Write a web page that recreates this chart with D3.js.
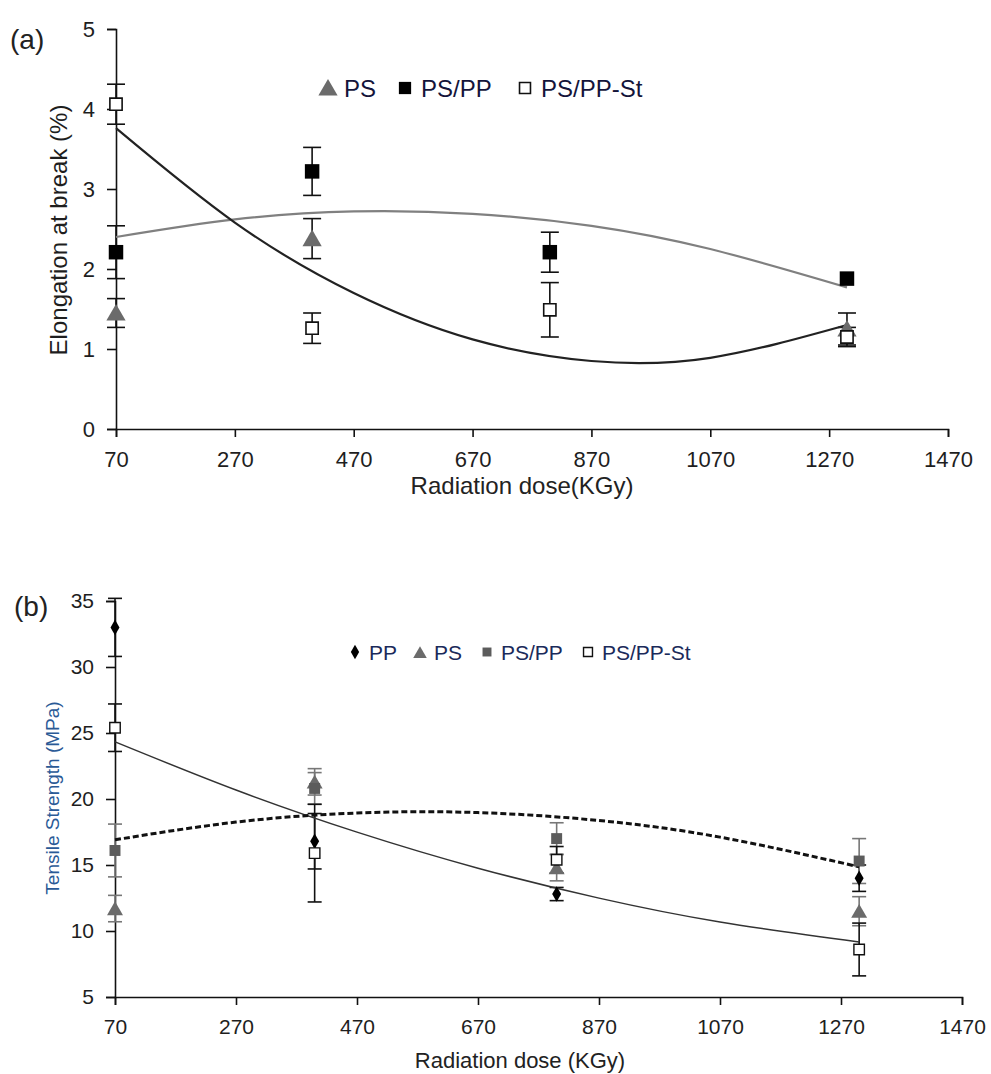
<!DOCTYPE html>
<html>
<head>
<meta charset="utf-8">
<script src="https://cdn.jsdelivr.net/npm/d3@7"></script>
<style>
  html, body { margin: 0; padding: 0; background: #fff; }
  svg { display: block; }
  text { font-family: "Liberation Sans", Arial, sans-serif; }
</style>
</head>
<body>
<script>
// ---------------- DATA ----------------
const doses = [70, 400, 800, 1300];
const xTicks = [70, 270, 470, 670, 870, 1070, 1270, 1470];

// Panel (a) Elongation at break (%)
const elongYTicks = [0, 1, 2, 3, 4, 5];
const elongPS        = [1.45, 2.38, null, 1.25];
const elongPSErr     = [0.18, 0.25, null, 0.2];
const elongPSPP      = [2.21, 3.22, 2.21, 1.88];
const elongPSPPErr   = [0.33, 0.30, 0.25, 0];
const elongPSPPSt    = [4.06, 1.26, 1.49, 1.15];
const elongPSPPStErr = [0.25, 0.19, 0.34, 0.12];
// trendline readings (2nd-order polynomial trendlines of the chart)
const trendDoses      = [70, 270, 470, 670, 870, 1070, 1300];
const elongTrendPSPP   = [2.40, 2.62, 2.72, 2.69, 2.54, 2.25, 1.77];
const elongTrendPSPPSt = [3.76, 2.58, 1.70, 1.12, 0.85, 0.89, 1.30];

// Panel (b) Tensile strength (MPa)
const tensYTicks = [5, 10, 15, 20, 25, 30, 35];
const tensPP        = [33.0, 16.8, 12.8, 14.0];
const tensPPErr     = [2.2, 2.1, 0.5, 1.0];
const tensPS        = [11.7, 21.3, 14.8, 11.5];
const tensPSErr     = [1.0, 1.0, 1.0, 1.1];
const tensPSPP      = [16.1, 20.8, 17.0, 15.3];
const tensPSPPErr   = [2.0, 1.2, 1.2, 1.7];
const tensPSPPSt    = [25.4, 15.9, 15.4, 8.6];
const tensPSPPStErr = [1.8, 3.7, 1.0, 2.0];
const tensTrendPSPP   = [16.91, 18.25, 18.94, 18.97, 18.37, 17.11, 14.86];
const tensTrendPSPPSt = [24.33, 20.68, 17.49, 14.76, 12.49, 10.68, 9.17];

// ---------------- DRAW ----------------
const W = 991, H = 1074;
const svg = d3.select("body").append("svg").attr("width", W).attr("height", H);

const symTri = d3.symbol().type(d3.symbolTriangle);
const symSq = d3.symbol().type(d3.symbolSquare);
const symDia = d3.symbol().type(d3.symbolDiamond);

function panel(cfg) {
  const g = svg.append("g");
  const x = d3.scaleLinear().domain([70, 1470]).range([cfg.x0, cfg.x1]);
  const y = d3.scaleLinear().domain(cfg.yDomain).range([cfg.yBottom, cfg.yTop]);

  // axes
  const ax = g.append("g").attr("transform", `translate(0,${cfg.yBottom})`)
    .call(d3.axisBottom(x).tickValues(xTicks).tickSize(8).tickPadding(cfg.xPad).tickFormat(d3.format("d")));
  const ay = g.append("g").attr("transform", `translate(${cfg.x0},0)`)
    .call(d3.axisLeft(y).tickValues(cfg.yTicks).tickSize(9).tickPadding(cfg.yPad).tickFormat(d3.format("d")));
  [ax, ay].forEach(a => {
    a.select(".domain").attr("stroke", "#111").attr("stroke-width", 1.6);
    a.selectAll(".tick line").attr("stroke", "#111").attr("stroke-width", 1.6);
    a.selectAll("text").attr("fill", "#1e1e1e").style("font-size", cfg.tickFont + "px")
      .style("font-family", cfg.tickFamily);
  });
  ax.selectAll(".tick text").attr("dy", "0.71em");

  // error bars
  const errG = g.append("g");
  cfg.series.forEach(s => {
    s.values.forEach((v, i) => {
      if (v == null || !s.err[i]) return;
      const cx = x(doses[i]);
      const yt = y(v + s.err[i]), yb = y(v - s.err[i]);
      errG.append("line").attr("x1", cx).attr("x2", cx).attr("y1", yt).attr("y2", yb)
        .attr("stroke", s.errColor).attr("stroke-width", 1.6);
      [yt, yb].forEach(yy => errG.append("line")
        .attr("x1", cx - cfg.cap).attr("x2", cx + cfg.cap).attr("y1", yy).attr("y2", yy)
        .attr("stroke", s.errColor).attr("stroke-width", 1.6));
    });
  });

  // trendlines
  const line = d3.line().x((d, i) => x(trendDoses[i])).y(d => y(d)).curve(d3.curveNatural);
  cfg.trends.forEach(t => {
    g.append("path").attr("d", line(t.values)).attr("fill", "none")
      .attr("stroke", t.color).attr("stroke-width", t.width)
      .attr("stroke-dasharray", t.dash || null);
  });

  // markers
  cfg.series.forEach(s => {
    s.values.forEach((v, i) => {
      if (v == null) return;
      g.append("path").attr("d", s.sym.size(s.size)())
        .attr("transform", `translate(${x(doses[i])},${y(v) + (s.dy || 0)})`)
        .attr("fill", s.fill).attr("stroke", s.stroke).attr("stroke-width", s.sw || 0);
    });
  });

  // legend
  const lg = g.append("g");
  cfg.series.forEach(s => {
    lg.append("path").attr("d", s.sym.size(s.legSize)())
      .attr("transform", `translate(${s.lx},${cfg.legY + (s.ldy || 0)})`)
      .attr("fill", s.fill).attr("stroke", s.stroke).attr("stroke-width", s.sw || 0);
    lg.append("text").attr("x", s.lx + cfg.legGap).attr("y", cfg.legY).attr("dy", "0.36em")
      .attr("fill", cfg.legColor).style("font-size", cfg.legFont + "px").text(s.name);
  });

  // titles
  g.append("text").attr("x", cfg.tagX).attr("y", cfg.tagY).style("font-size", cfg.tagFont + "px")
    .attr("fill", "#222").text(cfg.tag);
  g.append("text").attr("transform", `translate(${cfg.yTitleX},${cfg.yTitleCy}) rotate(-90)`)
    .attr("text-anchor", "middle").attr("dy", "0.36em").style("font-size", cfg.yTitleFont + "px")
    .attr("fill", cfg.yTitleColor).text(cfg.yTitle);
  g.append("text").attr("x", cfg.xTitleCx).attr("y", cfg.xTitleY).attr("text-anchor", "middle")
    .style("font-size", cfg.xTitleFont + "px").style("font-family", cfg.tickFamily)
    .attr("fill", "#222").text(cfg.xTitle);
}

panel({
  x0: 116, x1: 948, yTop: 29, yBottom: 429, yDomain: [0, 5], yTicks: elongYTicks,
  xPad: 14, yPad: 12, tickFont: 22, tickFamily: '"Liberation Sans", Arial, sans-serif', cap: 9,
  series: [
    { name: "PS", values: elongPS, err: elongPSErr, sym: symTri, size: 160, legSize: 160, fill: "#6b6b6b", stroke: "none", errColor: "#111", lx: 328, dy: 2, ldy: 2 },
    { name: "PS/PP", values: elongPSPP, err: elongPSPPErr, sym: symSq, size: 210, legSize: 150, fill: "#000", stroke: "#000", errColor: "#111", lx: 405 },
    { name: "PS/PP-St", values: elongPSPPSt, err: elongPSPPStErr, sym: symSq, size: 150, legSize: 120, fill: "#fff", stroke: "#111", sw: 1.6, errColor: "#111", lx: 525 }
  ],
  trends: [
    { values: elongTrendPSPP, color: "#808080", width: 2.2 },
    { values: elongTrendPSPPSt, color: "#222", width: 2.2 }
  ],
  legY: 88, legGap: 16, legFont: 24, legColor: "#14143a",
  tag: "(a)", tagX: 10, tagY: 49, tagFont: 28,
  yTitle: "Elongation at break (%)", yTitleX: 58, yTitleCy: 230, yTitleFont: 24, yTitleColor: "#1e1e1e",
  xTitle: "Radiation dose(KGy)", xTitleCx: 522, xTitleY: 494, xTitleFont: 24
});

panel({
  x0: 115, x1: 962, yTop: 601, yBottom: 997, yDomain: [5, 35], yTicks: tensYTicks,
  xPad: 14, yPad: 12, tickFont: 21, tickFamily: '"Liberation Sans Narrow", "Arial Narrow", "Liberation Sans", sans-serif', cap: 7,
  series: [
    { name: "PP", values: tensPP, err: tensPPErr, sym: symDia, size: 70, legSize: 60, fill: "#000", stroke: "none", errColor: "#111", lx: 355 },
    { name: "PS", values: tensPS, err: tensPSErr, sym: symTri, size: 110, legSize: 80, fill: "#6b6b6b", stroke: "none", errColor: "#777", lx: 420, dy: 2, ldy: 2 },
    { name: "PS/PP", values: tensPSPP, err: tensPSPPErr, sym: symSq, size: 120, legSize: 80, fill: "#5c5c5c", stroke: "none", errColor: "#777", lx: 487 },
    { name: "PS/PP-St", values: tensPSPPSt, err: tensPSPPStErr, sym: symSq, size: 110, legSize: 80, fill: "#fff", stroke: "#111", sw: 1.4, errColor: "#111", lx: 588 }
  ],
  trends: [
    { values: tensTrendPSPPSt, color: "#333", width: 1.5 },
    { values: tensTrendPSPP, color: "#111", width: 3, dash: "6,3" }
  ],
  legY: 652, legGap: 14, legFont: 21, legColor: "#1a2a5a",
  tag: "(b)", tagX: 14, tagY: 616, tagFont: 28,
  yTitle: "Tensile Strength (MPa)", yTitleX: 52, yTitleCy: 798, yTitleFont: 19, yTitleColor: "#2a5a96",
  xTitle: "Radiation dose (KGy)", xTitleCx: 520, xTitleY: 1068, xTitleFont: 22
});
</script>
</body>
</html>
